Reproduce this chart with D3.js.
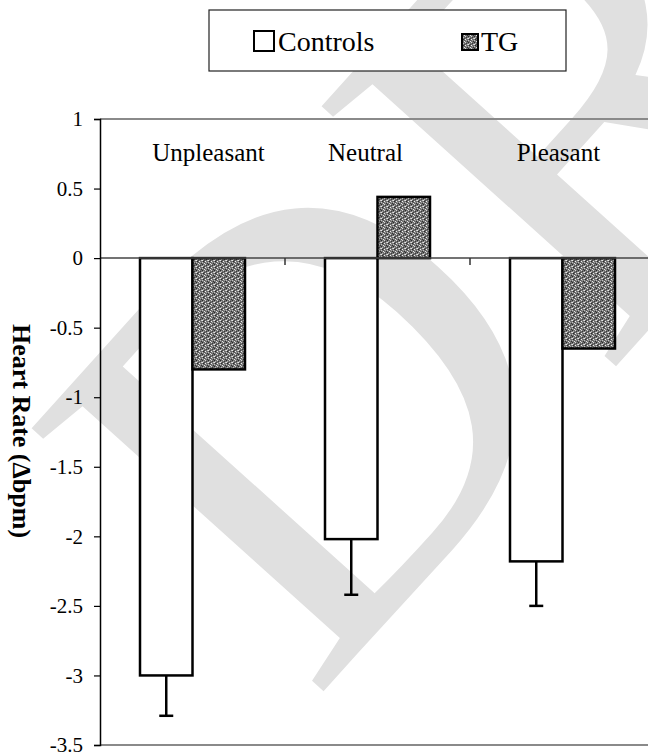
<!DOCTYPE html>
<html><head><meta charset="utf-8">
<script src="https://cdn.jsdelivr.net/npm/d3@7"></script>
<style>html,body{margin:0;padding:0;background:#fff;}svg{display:block;} text{font-family:'Liberation Serif','Times New Roman',serif;}</style>
</head><body>
<script>
const categories = ["Unpleasant", "Neutral", "Pleasant"];
const seriesNames = ["Controls", "TG"];
const controlsValues = [-3.0, -2.02, -2.18];
const controlsErrors = [0.29, 0.40, 0.32];
const tgValues = [-0.80, 0.44, -0.65];
const yTicks = [1, 0.5, 0, -0.5, -1, -1.5, -2, -2.5, -3, -3.5];
const yLabel = "Heart Rate (\u0394bpm)";

const W = 648, H = 755;
const SERIF = "'Liberation Serif','Times New Roman',serif";
const svg = d3.select("body").append("svg").attr("width", W).attr("height", H);

const defs = svg.append("defs");
const pat = defs.append("pattern").attr("id", "tgpat").attr("patternUnits", "userSpaceOnUse")
  .attr("width", 6).attr("height", 6);
pat.append("rect").attr("width", 6).attr("height", 6).attr("fill", "#707070");
[[0,0,"#2a2a2a"],[3,0,"#d8d8d8"],[1,1,"#b8b8b8"],[4,1,"#3a3a3a"],[0,2,"#e8e8e8"],[2,2,"#444"],[5,2,"#c8c8c8"],
 [1,3,"#2a2a2a"],[3,3,"#f0f0f0"],[4,4,"#a0a0a0"],[0,4,"#c4c4c4"],[2,5,"#e4e4e4"],[5,5,"#333"],[2,4,"#555"]]
 .forEach(([x,y,c]) => pat.append("rect").attr("x", x).attr("y", y).attr("width", 1).attr("height", 1).attr("fill", c));

// watermark (decorative, behind the chart)
svg.append("text").attr("transform", "translate(312,704) rotate(-48)")
  .style("font-family", SERIF).attr("font-size", 600).attr("fill", "#e0e0e0").text("DR");

const x0 = d3.scaleBand().domain(categories).range([100, 655]).padding(0);
const x1 = d3.scaleBand().domain(seriesNames).range([0, x0.bandwidth()]).paddingInner(0).paddingOuter(0.762);
const y = d3.scaleLinear().domain([-3.5, 1]).range([745, 119]);

// frame lines
svg.append("line").attr("x1", 100).attr("x2", W).attr("y1", y(1)).attr("y2", y(1)).attr("stroke", "#8a8a8a").attr("stroke-width", 2);
svg.append("line").attr("x1", 100).attr("x2", W).attr("y1", y(-3.5)).attr("y2", y(-3.5)).attr("stroke", "#8a8a8a").attr("stroke-width", 2);

// bars
const data = categories.map((c, i) => ({cat: c, vals: [
  {s: "Controls", v: controlsValues[i], e: controlsErrors[i]},
  {s: "TG", v: tgValues[i], e: 0}]}));

const g = svg.selectAll("g.cat").data(data).join("g").attr("class", "cat")
  .attr("transform", d => `translate(${x0(d.cat)},0)`);
g.selectAll("rect").data(d => d.vals).join("rect")
  .attr("x", d => x1(d.s)).attr("width", x1.bandwidth())
  .attr("y", d => y(Math.max(0, d.v))).attr("height", d => Math.abs(y(d.v) - y(0)))
  .attr("fill", d => d.s === "Controls" ? "#fff" : "url(#tgpat)")
  .attr("stroke", "#000").attr("stroke-width", 2.5);

// error bars
g.selectAll("g.err").data(d => d.vals.filter(v => v.e > 0)).join("g").attr("class", "err")
  .each(function(d) {
    const cx = x1(d.s) + x1.bandwidth() / 2;
    const sel = d3.select(this);
    sel.append("line").attr("x1", cx).attr("x2", cx).attr("y1", y(d.v)).attr("y2", y(d.v - d.e)).attr("stroke", "#000").attr("stroke-width", 2.5);
    sel.append("line").attr("x1", cx - 7).attr("x2", cx + 7).attr("y1", y(d.v - d.e)).attr("y2", y(d.v - d.e)).attr("stroke", "#000").attr("stroke-width", 2.5);
  });

// zero line + category ticks
svg.append("line").attr("x1", 100).attr("x2", W).attr("y1", y(0)).attr("y2", y(0)).attr("stroke", "#444").attr("stroke-width", 1.5);
categories.slice(1).forEach(c => {
  svg.append("line").attr("x1", x0(c)).attr("x2", x0(c)).attr("y1", y(0)).attr("y2", y(0) + 7).attr("stroke", "#333").attr("stroke-width", 1.5);
});

// y axis
const yAxis = d3.axisLeft(y).tickValues(yTicks).tickSize(6).tickPadding(11).tickFormat(d => String(d));
const ya = svg.append("g").attr("transform", "translate(100,0)").call(yAxis);
ya.attr("font-family", SERIF);
ya.select(".domain").attr("stroke", "#000").attr("stroke-width", 1.5);
ya.selectAll(".tick line").attr("stroke", "#000").attr("stroke-width", 1.2);
ya.selectAll(".tick text").style("font-family", SERIF).attr("font-size", 21).attr("fill", "#000");

// category labels
const labelOffsets = [16, -12, -4];
svg.selectAll("text.catlab").data(categories).join("text").attr("class", "catlab")
  .attr("x", (d, i) => x0(d) + x0.bandwidth() / 2 + labelOffsets[i]).attr("y", 161)
  .attr("text-anchor", "middle").attr("font-size", 25).text(d => d);

// y label
svg.append("text").attr("transform", "translate(13,431) rotate(90)").attr("text-anchor", "middle")
  .attr("font-size", 26).attr("font-weight", "bold").text(yLabel);

// legend
const lg = svg.append("g");
lg.append("rect").attr("x", 209).attr("y", 10).attr("width", 357).attr("height", 61)
  .attr("fill", "#fff").attr("stroke", "#222").attr("stroke-width", 1.2);
const legX = [254, 462], legSize = [20, 16], legText = [278, 481];
seriesNames.forEach((s, i) => {
  lg.append("rect").attr("x", legX[i]).attr("y", 51 - legSize[i] - (i ? 1 : 0)).attr("width", legSize[i]).attr("height", legSize[i])
    .attr("fill", s === "Controls" ? "#fff" : "url(#tgpat)").attr("stroke", "#000").attr("stroke-width", 2);
  lg.append("text").attr("x", legText[i]).attr("y", 51).attr("font-size", 28).text(s);
});
</script>
</body></html>
